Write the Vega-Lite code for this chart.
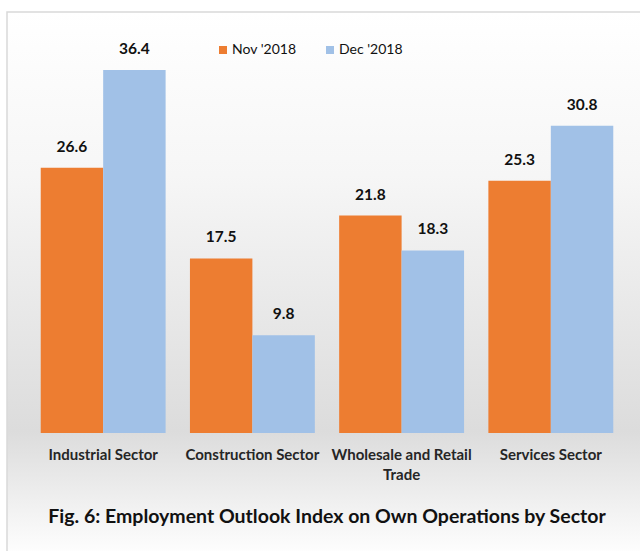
{
  "$schema": "https://vega.github.io/schema/vega-lite/v6.json",
  "width": 640,
  "height": 545,
  "padding": {"left": 7, "top": 12, "right": 0, "bottom": 0},
  "background": "#ffffff",
  "title": {
    "text": "Fig. 6: Employment Outlook  Index on Own Operations by Sector",
    "orient": "bottom",
    "anchor": "middle",
    "offset": -49,
    "font": "Lato",
    "fontSize": 19.5,
    "fontWeight": "bold",
    "color": "#111111"
  },
  "data": {
    "values": [
      {"sector": "Industrial Sector", "month": "Nov '2018", "value": 26.6},
      {"sector": "Industrial Sector", "month": "Dec '2018", "value": 36.4},
      {"sector": "Construction Sector", "month": "Nov '2018", "value": 17.5},
      {"sector": "Construction Sector", "month": "Dec '2018", "value": 9.8},
      {"sector": "Wholesale and Retail Trade", "month": "Nov '2018", "value": 21.8},
      {"sector": "Wholesale and Retail Trade", "month": "Dec '2018", "value": 18.3},
      {"sector": "Services Sector", "month": "Nov '2018", "value": 25.3},
      {"sector": "Services Sector", "month": "Dec '2018", "value": 30.8}
    ]
  },
  "encoding": {
    "x": {
      "field": "sector",
      "type": "nominal",
      "sort": null,
      "scale": {"paddingInner": 0.163, "paddingOuter": 0.226},
      "axis": {
        "title": null,
        "orient": "bottom",
        "offset": -124,
        "domain": false,
        "ticks": false,
        "labelAngle": 0,
        "labelPadding": 14,
        "labelFont": "Lato",
        "labelFontSize": 15,
        "labelFontWeight": "bold",
        "labelColor": "#262626",
        "labelLineHeight": 20,
        "labelLimit": 200,
        "labelExpr": "datum.label == 'Wholesale and Retail Trade' ? ['Wholesale and Retail', 'Trade'] : datum.label"
      }
    },
    "xOffset": {"field": "month", "type": "nominal", "sort": ["Nov '2018", "Dec '2018"], "scale": {"paddingInner": 0, "paddingOuter": 0}},
    "y": {
      "field": "value",
      "type": "quantitative",
      "scale": {"domain": [-12.43, 42.21], "nice": false, "zero": false},
      "axis": null
    }
  },
  "layer": [
    {
      "mark": {"type": "bar"},
      "encoding": {
        "y2": {"datum": 0},
        "color": {
          "field": "month",
          "type": "nominal",
          "sort": ["Nov '2018", "Dec '2018"],
          "scale": {"domain": ["Nov '2018", "Dec '2018"], "range": ["#ED7D31", "#A1C1E7"]},
          "legend": {
            "title": null,
            "orient": "none",
            "legendX": 209,
            "legendY": 31,
            "direction": "horizontal",
            "columns": 2,
            "symbolType": "square",
            "symbolSize": 64,
            "symbolStrokeWidth": 0,
            "labelFont": "Lato",
            "labelFontSize": 14,
            "labelColor": "#111111",
            "labelOffset": 2,
            "columnPadding": 26
          }
        }
      }
    },
    {
      "mark": {"type": "text", "dy": -21, "baseline": "middle", "font": "Lato", "fontSize": 15.5, "fontWeight": "bold", "color": "#111111"},
      "encoding": {
        "text": {"field": "value", "type": "quantitative", "format": ".1f"}
      }
    }
  ],
  "config": {
    "view": {
      "stroke": "#d9d9d9",
      "strokeWidth": 1.5,
      "fill": {
        "gradient": "linear",
        "x1": 0, "y1": 0, "x2": 0, "y2": 1,
        "stops": [
          {"offset": 0, "color": "#ffffff"},
          {"offset": 0.3, "color": "#f6f6f6"},
          {"offset": 0.77, "color": "#dcdcdc"},
          {"offset": 1, "color": "#ffffff"}
        ]
      }
    }
  }
}
